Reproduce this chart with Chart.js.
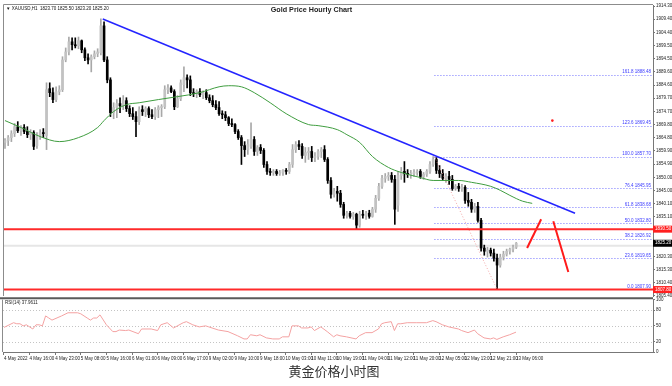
<!DOCTYPE html>
<html>
<head>
<meta charset="utf-8">
<title>Gold Price Hourly Chart</title>
<script src="https://cdn.jsdelivr.net/npm/chart.js@4.4.1/dist/chart.umd.min.js"></script>
<style>
    body { margin: 0; width: 672px; height: 386px; background: #fff; position: relative; overflow: hidden; }
    canvas { position: absolute; left: 0; }
    #mainChart { top: 0; }
    #rsiChart { top: 296px; }
    #title { position: absolute; left: 0; width: 623px; top: 5px; text-align: center; font: bold 7.2px 'Liberation Sans', Arial, sans-serif; color: #222; }
    #caption { position: absolute; left: 0; width: 668px; top: 361px; text-align: center; font: 13px 'Noto Sans CJK SC', sans-serif; color: #333; }
</style>
</head>
<body>
<canvas id="mainChart" width="672" height="300"></canvas>
<canvas id="rsiChart" width="672" height="70"></canvas>
<div id="title">Gold Price Hourly Chart</div>
<div id="caption">黄金价格小时图</div>

<script>
// Time axis labels, one every 8 hourly bars
const timeLabels = ['4 May 2022', '4 May 16:00', '4 May 23:00', '5 May 08:00', '5 May 16:00', '6 May 01:00',
    '6 May 09:00', '6 May 17:00', '9 May 02:00', '9 May 10:00', '9 May 18:00', '10 May 03:00', '10 May 11:00',
    '10 May 19:00', '11 May 04:00', '11 May 12:00', '11 May 20:00', '12 May 05:00', '12 May 13:00',
    '12 May 21:00', '13 May 06:00'];
const barsPerLabel = 8;

// XAUUSD H1 candles (bar index = position in array)
const opens = [1863.1, 1863.8, 1864.9, 1866.4, 1869.0, 1867.5, 1868.7, 1867.2, 1866.0, 1866.8,
    1861.9, 1865.7, 1866.8, 1865.7, 1883.3, 1881.8, 1879.2, 1882.2, 1882.9, 1894.1,
    1897.1, 1900.9, 1899.8, 1899.4, 1901.3, 1897.9, 1894.9, 1894.1, 1895.3, 1896.4,
    1896.8, 1906.9, 1894.1, 1886.6, 1874.3, 1876.2, 1877.7, 1876.9, 1878.8, 1875.8,
    1873.9, 1872.8, 1870.9, 1875.4, 1874.7, 1875.8, 1873.5, 1872.8, 1875.4, 1876.2,
    1876.5, 1882.9, 1883.6, 1882.2, 1876.5, 1879.5, 1884.8, 1887.4, 1886.6, 1881.8,
    1881.4, 1882.2, 1881.0, 1881.8, 1879.9, 1878.8, 1877.3, 1876.2, 1873.9, 1873.5,
    1872.4, 1870.2, 1869.8, 1867.2, 1864.9, 1861.9, 1860.4, 1861.6, 1864.2, 1859.7,
    1861.2, 1860.1, 1854.8, 1852.2, 1851.8, 1852.2, 1851.4, 1851.8, 1852.6, 1852.2,
    1854.8, 1860.4, 1862.3, 1861.6, 1858.2, 1859.3, 1859.7, 1857.4, 1857.8, 1859.7,
    1860.4, 1856.7, 1848.8, 1843.6, 1844.7, 1844.0, 1839.8, 1835.7, 1836.5, 1835.3,
    1836.1, 1832.0, 1836.1, 1835.7, 1836.5, 1835.3, 1838.0, 1842.1, 1846.6, 1849.6,
    1850.3, 1850.7, 1849.2, 1839.5, 1850.7, 1852.2, 1851.4, 1851.1, 1851.4, 1851.8,
    1852.2, 1850.3, 1851.1, 1852.2, 1854.8, 1856.7, 1852.6, 1851.4, 1849.6, 1850.3,
    1849.2, 1845.8, 1846.6, 1845.8, 1846.2, 1841.3, 1840.6, 1838.0, 1839.1, 1833.8,
    1823.4, 1822.2, 1822.6, 1821.5, 1819.6, 1817.0, 1820.0, 1821.1, 1822.2, 1823.0,
    1823.7];
const highs = [1864.5, 1865.7, 1867.5, 1870.2, 1870.9, 1869.4, 1869.8, 1869.0, 1867.9, 1867.5,
    1866.8, 1867.9, 1868.3, 1885.5, 1885.5, 1883.6, 1884.0, 1884.4, 1895.3, 1898.6,
    1902.7, 1902.4, 1902.4, 1902.7, 1901.6, 1898.6, 1896.4, 1896.0, 1897.5, 1898.3,
    1909.5, 1908.4, 1895.3, 1887.4, 1878.0, 1879.2, 1879.9, 1880.7, 1879.9, 1876.9,
    1876.2, 1874.7, 1876.5, 1876.9, 1876.5, 1876.5, 1875.4, 1876.2, 1876.9, 1877.3,
    1884.4, 1884.8, 1884.4, 1882.9, 1880.7, 1886.6, 1891.5, 1888.5, 1888.1, 1883.3,
    1882.9, 1883.3, 1882.5, 1882.9, 1881.0, 1880.7, 1878.8, 1878.4, 1875.0, 1874.7,
    1872.8, 1872.0, 1870.2, 1867.9, 1865.7, 1863.4, 1864.2, 1870.5, 1865.3, 1861.9,
    1862.3, 1860.8, 1855.9, 1853.3, 1852.9, 1852.9, 1852.6, 1852.9, 1853.3, 1855.6,
    1862.3, 1863.4, 1863.8, 1862.7, 1861.2, 1861.2, 1861.6, 1859.3, 1860.4, 1861.2,
    1861.9, 1857.4, 1849.9, 1845.8, 1846.6, 1845.1, 1840.6, 1837.2, 1837.2, 1836.8,
    1836.5, 1837.2, 1837.6, 1837.2, 1837.6, 1838.7, 1843.2, 1847.7, 1850.7, 1851.4,
    1851.8, 1851.8, 1850.7, 1852.2, 1853.7, 1855.9, 1852.9, 1852.6, 1852.9, 1852.9,
    1852.9, 1851.8, 1852.9, 1855.9, 1857.8, 1857.4, 1854.4, 1852.9, 1851.4, 1852.2,
    1850.7, 1847.3, 1847.7, 1847.3, 1846.9, 1844.3, 1841.7, 1840.2, 1840.6, 1834.6,
    1824.5, 1823.7, 1823.4, 1823.0, 1821.1, 1821.1, 1822.2, 1823.0, 1823.4, 1824.5,
    1825.5];
const lows = [1860.8, 1861.9, 1863.4, 1865.3, 1866.8, 1865.7, 1866.4, 1864.9, 1864.2, 1860.4,
    1860.8, 1864.2, 1864.9, 1860.4, 1880.3, 1878.0, 1878.4, 1881.0, 1882.2, 1893.4,
    1896.0, 1897.9, 1898.6, 1898.3, 1896.8, 1893.8, 1892.6, 1889.6, 1894.5, 1895.3,
    1896.0, 1893.4, 1885.5, 1872.8, 1872.0, 1872.4, 1874.3, 1875.4, 1874.7, 1872.8,
    1871.7, 1865.3, 1869.8, 1873.2, 1872.8, 1872.4, 1872.0, 1871.7, 1872.4, 1872.8,
    1875.8, 1881.4, 1881.8, 1875.4, 1876.2, 1878.8, 1882.2, 1883.6, 1880.7, 1880.3,
    1879.9, 1880.3, 1879.5, 1879.2, 1878.0, 1876.5, 1875.4, 1873.2, 1872.0, 1871.3,
    1869.4, 1869.0, 1866.4, 1864.2, 1854.8, 1857.8, 1858.6, 1860.8, 1858.2, 1858.2,
    1858.9, 1853.7, 1851.1, 1850.7, 1850.7, 1850.7, 1850.7, 1850.7, 1851.1, 1851.4,
    1853.7, 1859.3, 1860.4, 1857.1, 1855.6, 1856.7, 1855.9, 1855.9, 1856.7, 1857.4,
    1855.9, 1847.7, 1842.1, 1842.5, 1841.0, 1838.7, 1834.6, 1834.6, 1834.6, 1834.2,
    1830.5, 1831.2, 1834.6, 1834.2, 1834.6, 1835.0, 1836.8, 1841.3, 1845.8, 1848.1,
    1848.8, 1848.1, 1832.3, 1837.2, 1849.2, 1848.1, 1849.9, 1849.6, 1850.3, 1850.7,
    1849.6, 1849.2, 1850.3, 1851.4, 1854.1, 1851.4, 1849.9, 1848.8, 1848.1, 1847.3,
    1845.1, 1845.1, 1844.7, 1844.7, 1840.2, 1839.1, 1836.8, 1836.8, 1833.1, 1822.2,
    1820.7, 1820.0, 1820.4, 1818.5, 1808.0, 1816.2, 1818.9, 1820.4, 1821.1, 1821.9,
    1823.2];
const closes = [1863.8, 1864.9, 1866.4, 1869.0, 1867.5, 1868.7, 1867.2, 1866.0, 1866.8, 1861.6,
    1865.7, 1866.8, 1866.4, 1882.9, 1881.8, 1879.2, 1882.2, 1882.9, 1894.1, 1897.1,
    1900.9, 1899.8, 1899.4, 1901.3, 1897.9, 1894.9, 1894.1, 1895.3, 1896.4, 1897.1,
    1906.9, 1894.1, 1886.6, 1874.3, 1876.2, 1877.7, 1876.9, 1878.8, 1875.8, 1873.9,
    1872.8, 1870.9, 1875.4, 1874.7, 1875.8, 1873.5, 1872.8, 1875.4, 1876.2, 1876.5,
    1882.9, 1883.6, 1882.2, 1876.5, 1879.5, 1885.5, 1887.4, 1886.6, 1881.8, 1881.4,
    1882.2, 1881.0, 1881.8, 1879.9, 1878.8, 1877.3, 1876.2, 1873.9, 1873.5, 1872.4,
    1870.2, 1869.8, 1867.2, 1864.9, 1861.9, 1860.4, 1862.3, 1864.2, 1859.7, 1861.2,
    1860.1, 1854.8, 1852.2, 1851.8, 1852.2, 1851.4, 1851.8, 1852.6, 1852.2, 1854.8,
    1860.4, 1862.3, 1861.6, 1858.2, 1859.3, 1859.7, 1857.4, 1857.8, 1859.7, 1860.4,
    1856.7, 1848.8, 1843.6, 1844.7, 1844.0, 1839.8, 1835.7, 1836.5, 1835.3, 1836.1,
    1832.0, 1836.1, 1835.7, 1836.5, 1835.3, 1838.0, 1842.1, 1846.6, 1849.6, 1850.3,
    1850.7, 1849.2, 1838.0, 1850.7, 1852.2, 1851.4, 1851.1, 1851.4, 1851.8, 1852.2,
    1850.3, 1851.1, 1852.2, 1854.8, 1856.7, 1852.6, 1851.4, 1849.6, 1850.3, 1849.2,
    1845.8, 1846.6, 1845.8, 1846.2, 1841.3, 1840.6, 1838.0, 1839.1, 1833.8, 1823.4,
    1822.2, 1822.6, 1821.5, 1819.6, 1817.0, 1820.0, 1821.1, 1822.2, 1823.0, 1823.7,
    1825.2];

// Moving average (green), read at selected bars
const maX = [0, 5, 11, 17, 23, 29, 31, 34, 38, 42, 48, 54, 61, 67, 70, 74, 78, 83, 88, 95,
    98, 104, 107, 111, 115, 120, 124, 130, 134, 142, 146, 152, 155, 158, 162, 165];
const maY = [1871.3, 1868.7, 1865.3, 1863.4, 1864.9, 1868.7, 1871.3, 1874.7, 1877.3, 1878.0,
    1879.2, 1880.3, 1881.8, 1884.0, 1884.4, 1884.0, 1881.8, 1878.0, 1873.9, 1869.8,
    1869.4, 1867.9, 1866.0, 1863.1, 1857.8, 1853.7, 1851.8, 1849.9, 1848.8, 1848.8,
    1848.1, 1846.6, 1845.1, 1843.2, 1841.0, 1840.2];

// Drawn objects
const trendX = [30.6, 178.4];
const trendY = [1909.5, 1836.5];
const fibLineX = [134.4, 154];
const fibLineY = [1857.7, 1807.9];
const fibStart = 134.4;
const fibRatios = ['0.0', '23.6', '38.2', '50.0', '61.8', '76.4', '100.0', '123.6', '161.8'];
const fibPrices = [1807.90, 1819.65, 1826.92, 1832.80, 1838.68, 1845.95, 1857.70, 1869.45, 1888.48];
const redLevels = [1830.50, 1807.80];
const askLevel = 1824.3;
const arrowUpX = [163.4, 167.8];
const arrowUpY = [1823.4, 1834.2];
const arrowDownX = [171.6, 176.3];
const arrowDownY = [1833.5, 1814.4];
const markX = [171.3];
const markY = [1871.3];

// Price axis
const priceTicks = [1805.40, 1810.40, 1815.30, 1820.30, 1825.20, 1830.20, 1835.10, 1840.10, 1845.00,
    1850.00, 1854.90, 1859.90, 1864.80, 1869.80, 1874.70, 1879.70, 1884.60, 1889.60, 1894.50,
    1899.50, 1904.40, 1909.40, 1914.30];
const priceMin = 1805.38;
const priceMax = 1914.74;
const xMin = -0.31;
const xMax = 202.8;

// RSI(14)
const rsiX = [0, 3, 4, 5, 6, 7, 9, 10, 11, 12, 13, 14, 15, 18, 20, 23, 24, 26, 27, 28,
    29, 30, 32, 34, 35, 36, 38, 39, 42, 43, 46, 48, 49, 51, 53, 56, 57, 59, 61, 63,
    64, 67, 70, 73, 75, 76, 77, 79, 80, 82, 84, 86, 87, 89, 90, 92, 93, 95, 96, 97,
    99, 101, 103, 104, 105, 107, 110, 111, 113, 115, 117, 118, 119, 121, 122, 123, 124, 126, 129, 132,
    134, 135, 137, 139, 142, 143, 145, 147, 148, 150, 152, 153, 154, 156, 158, 160];
const rsiValues = [47, 56, 54, 54, 50, 52, 44, 52, 52, 50, 69, 65, 61, 69, 75, 75, 73, 65, 61, 65,
    65, 71, 52, 39, 39, 42, 41, 42, 35, 44, 44, 41, 52, 56, 46, 56, 58, 52, 48, 50,
    48, 42, 39, 31, 25, 25, 33, 31, 33, 27, 25, 25, 29, 29, 50, 50, 46, 46, 48, 41,
    48, 39, 29, 33, 31, 29, 25, 31, 37, 37, 44, 54, 56, 58, 41, 54, 54, 56, 56, 56,
    60, 58, 52, 48, 44, 41, 37, 42, 35, 27, 25, 27, 24, 29, 33, 38];
const rsiTicks = [0, 20, 50, 80, 100];
const rsiLevels = [20, 50, 80];

const tickFont = { size: 4.5, family: "'Liberation Sans', Arial, sans-serif" };
const smallFont = '4.5px "Liberation Sans", Arial, sans-serif';

const isBull = closes.map((c, i) => c >= opens[i]);

function hline(ctx, x1, x2, y) {
    ctx.beginPath();
    ctx.moveTo(x1, y);
    ctx.lineTo(x2, y);
    ctx.stroke();
}

function points(xs, ys) {
    return xs.map((x, i) => ({ x: x, y: ys[i] }));
}

// levels, labels and frame of the price panel
const mainOverlay = {
    id: 'mainOverlay',
    beforeDatasetsDraw(chart) {
        const { ctx, chartArea: area, scales: { x, y } } = chart;
        ctx.save();
        ctx.strokeStyle = '#e6e6e6';
        ctx.lineWidth = 2;
        hline(ctx, area.left, area.right, y.getPixelForValue(askLevel));
        ctx.setLineDash([1, 2]);
        ctx.strokeStyle = '#7373ff';
        ctx.lineWidth = 1;
        const fx = x.getPixelForValue(fibStart);
        fibPrices.forEach(p => hline(ctx, fx, area.right, Math.round(y.getPixelForValue(p)) + 0.5));
        ctx.restore();
    },
    afterDatasetsDraw(chart) {
        const { ctx, chartArea: area, scales: { y } } = chart;
        ctx.save();
        ctx.strokeStyle = '#ff2a2a';
        ctx.lineWidth = 2;
        redLevels.forEach(p => hline(ctx, area.left, area.right, y.getPixelForValue(p)));

        ctx.font = smallFont;
        ctx.fillStyle = '#3c3cff';
        ctx.textAlign = 'right';
        ctx.textBaseline = 'bottom';
        fibPrices.forEach((p, k) => {
            ctx.fillText(fibRatios[k] + ' ' + p.toFixed(2), area.right - 2, y.getPixelForValue(p) - 0.5);
        });
        ctx.restore();
    },
    afterDraw(chart) {
        const { ctx, chartArea: area, scales: { y } } = chart;
        ctx.save();
        ctx.strokeStyle = '#8c8c8c';
        ctx.lineWidth = 1;
        ctx.beginPath();
        ctx.moveTo(area.left - 0.5, area.bottom);
        ctx.lineTo(area.left - 0.5, area.top - 0.5);
        ctx.lineTo(area.right, area.top - 0.5);
        ctx.stroke();

        // price boxes on the axis
        const last = closes.length - 1;
        const boxes = redLevels.map(p => [p, '#ff2020']).concat([[closes[last], '#000']]);
        ctx.font = smallFont;
        ctx.textAlign = 'left';
        ctx.textBaseline = 'middle';
        boxes.forEach(([p, color]) => {
            const py = y.getPixelForValue(p);
            ctx.fillStyle = color;
            ctx.fillRect(area.right, py - 3.5, 19, 7);
            ctx.fillStyle = '#fff';
            ctx.fillText(p.toFixed(2), area.right + 2, py);
        });

        // symbol info line
        ctx.fillStyle = '#111';
        const info = '\u25BC XAUUSD,H1  ' + opens[last].toFixed(2) + ' ' + highs[last].toFixed(2) + ' ' +
            lows[last].toFixed(2) + ' ' + closes[last].toFixed(2);
        ctx.fillText(info, area.left + 2, area.top + 4);
        ctx.restore();
    }
};

new Chart(document.getElementById('mainChart'), {
    type: 'bar',
    data: {
        datasets: [
            {
                type: 'line',
                label: 'Mark',
                data: points(markX, markY),
                showLine: false,
                pointRadius: 1.3,
                pointBackgroundColor: '#ff2020',
                pointBorderWidth: 0,
                order: 0
            },
            {
                type: 'line',
                label: 'Up',
                data: points(arrowUpX, arrowUpY),
                borderColor: '#ff1a1a',
                borderWidth: 2,
                pointRadius: 0,
                order: 1
            },
            {
                type: 'line',
                label: 'Down',
                data: points(arrowDownX, arrowDownY),
                borderColor: '#ff1a1a',
                borderWidth: 2,
                pointRadius: 0,
                order: 1
            },
            {
                type: 'line',
                label: 'Trend',
                data: points(trendX, trendY),
                borderColor: '#2424ff',
                borderWidth: 1.5,
                pointRadius: 0,
                order: 2
            },
            {
                type: 'line',
                label: 'Fibo',
                data: points(fibLineX, fibLineY),
                borderColor: '#f09090',
                borderWidth: 0.8,
                borderDash: [1, 2],
                pointRadius: 0,
                order: 2
            },
            {
                type: 'line',
                label: 'MA',
                data: points(maX, maY),
                borderColor: '#3f9d3f',
                borderWidth: 1,
                pointRadius: 0,
                cubicInterpolationMode: 'monotone',
                order: 3
            },
            {
                label: 'Bodies',
                data: opens.map((o, i) => ({ x: i, y: [o, closes[i]] })),
                backgroundColor: isBull.map(b => b ? '#c2c2c2' : '#000'),
                barThickness: 2,
                minBarLength: 1,
                grouped: false,
                order: 4
            },
            {
                label: 'Wicks',
                data: opens.map((o, i) => ({ x: i, y: [lows[i], highs[i]] })),
                backgroundColor: isBull.map(b => b ? '#a8a8a8' : '#000'),
                barThickness: 1,
                grouped: false,
                order: 5
            }
        ]
    },
    options: {
        responsive: false,
        animation: false,
        layout: { padding: { left: 3, top: 5, right: 0, bottom: 3 } },
        plugins: {
            legend: { display: false },
            tooltip: { enabled: false }
        },
        scales: {
            x: { type: 'linear', min: xMin, max: xMax, offset: false, display: false },
            y: {
                position: 'right',
                min: priceMin,
                max: priceMax,
                afterFit(scale) { scale.width = 19; },
                afterBuildTicks(scale) { scale.ticks = priceTicks.map(v => ({ value: v })); },
                ticks: {
                    autoSkip: false,
                    padding: 1,
                    color: '#222',
                    font: tickFont,
                    callback: v => v.toFixed(2)
                },
                grid: { drawOnChartArea: false, tickLength: 2, color: '#777' },
                border: { color: '#777' }
            }
        }
    },
    plugins: [mainOverlay]
});

// levels, separator and caption of the RSI panel
const rsiOverlay = {
    id: 'rsiOverlay',
    beforeDatasetsDraw(chart) {
        const { ctx, chartArea: area, scales: { y } } = chart;
        ctx.save();
        ctx.setLineDash([1, 2]);
        ctx.strokeStyle = '#c4c4c4';
        ctx.lineWidth = 1;
        rsiLevels.forEach(v => hline(ctx, area.left, area.right, Math.round(y.getPixelForValue(v)) + 0.5));
        ctx.restore();
    },
    afterDraw(chart) {
        const { ctx, chartArea: area } = chart;
        ctx.save();
        ctx.strokeStyle = '#8c8c8c';
        ctx.lineWidth = 1;
        ctx.beginPath();
        ctx.moveTo(area.left - 0.5, area.top);
        ctx.lineTo(area.left - 0.5, area.bottom);
        ctx.stroke();
        ctx.strokeStyle = '#5a5a5a';
        ctx.lineWidth = 2;
        hline(ctx, 0, area.right, area.top - 1.5);
        ctx.font = smallFont;
        ctx.fillStyle = '#222';
        ctx.textAlign = 'left';
        ctx.textBaseline = 'middle';
        ctx.fillText('RSI(14) 37.9611', area.left + 2, area.top + 3);
        ctx.restore();
    }
};

new Chart(document.getElementById('rsiChart'), {
    type: 'line',
    data: {
        datasets: [{
            label: 'RSI(14)',
            data: points(rsiX, rsiValues),
            borderColor: '#f4a2a2',
            borderWidth: 1,
            pointRadius: 0,
            tension: 0
        }]
    },
    options: {
        responsive: false,
        animation: false,
        layout: { padding: { left: 3, top: 3, right: 0, bottom: 0 } },
        plugins: {
            legend: { display: false },
            tooltip: { enabled: false }
        },
        scales: {
            x: {
                type: 'linear',
                min: xMin,
                max: xMax,
                offset: false,
                afterFit(scale) { scale.height = 14; },
                afterBuildTicks(scale) { scale.ticks = timeLabels.map((_, k) => ({ value: k * barsPerLabel })); },
                ticks: {
                    autoSkip: false,
                    maxRotation: 0,
                    align: 'start',
                    padding: 1,
                    color: '#222',
                    font: tickFont,
                    callback: (v, i) => timeLabels[i]
                },
                grid: { drawOnChartArea: false, tickLength: 3, color: '#777' },
                border: { color: '#777' }
            },
            y: {
                position: 'right',
                min: 0,
                max: 100,
                afterFit(scale) { scale.width = 19; },
                afterBuildTicks(scale) { scale.ticks = rsiTicks.map(v => ({ value: v })); },
                ticks: { autoSkip: false, padding: 1, color: '#222', font: tickFont },
                grid: { drawOnChartArea: false, tickLength: 2, color: '#777' },
                border: { color: '#777' }
            }
        }
    },
    plugins: [rsiOverlay]
});
</script>
</body>
</html>
